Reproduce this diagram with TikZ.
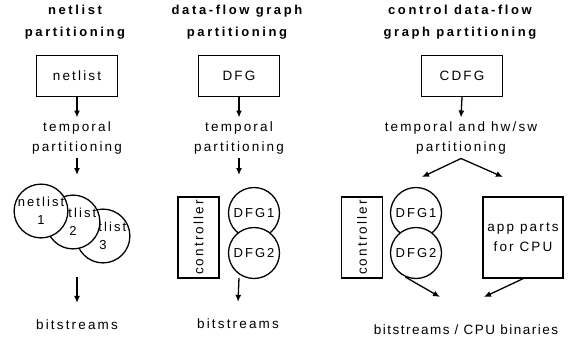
\documentclass[tikz,border=0pt]{standalone}
\usepackage{fontspec}
\setmainfont{Liberation Sans}[
  LetterSpace=16,
  BoldFeatures={LetterSpace=20}
]
\usepackage{tikz}
\usetikzlibrary{
  arrows.meta,
  positioning
}
\tikzset{
  title/.style={
    font=\bfseries\fontsize{13}{22}\selectfont,
    align=center,
    inner sep=0pt
  },
  srcbox/.style={
    draw,
    line width=1.4pt,
    minimum width=81pt,
    minimum height=41pt,
    inner sep=0pt
  },
  stage/.style={
    align=center,
    inner xsep=0pt,
    inner ysep=4pt
  },
  part/.style={
    circle,
    draw,
    line width=1.3pt,
    fill=white,
    minimum size=51pt,
    inner sep=0pt,
    align=center,
    font=\fontsize{13}{18}\selectfont
  },
  ctrlbox/.style={
    draw,
    line width=1.4pt,
    minimum width=81pt,
    minimum height=41pt,
    inner sep=0pt,
    rotate=90
  },
  cpubox/.style={
    draw,
    line width=1.4pt,
    minimum width=80pt,
    minimum height=81pt,
    inner sep=0pt,
    align=center
  },
  result/.style={
    inner xsep=0pt,
    inner ysep=17pt
  },
  flow/.style={
    -{Latex[length=7pt,width=6pt]},
    line width=1.3pt
  }
}

\begin{document}
\begin{tikzpicture}[
  x=1pt,
  y=-1pt,
  font=\fontsize{13.5}{20}\selectfont
]
  \useasboundingbox (0,0) rectangle (573,343);

  % netlist partitioning
  \node[title] (title1) at (75,22) {netlist\\partitioning};
  \node[srcbox] (netlist) at (77,76) {netlist};
  \node[stage] (temp1) at (77,138) {temporal\\partitioning};
  \coordinate (in1) at (77,175);
  \node[part] (nl3) at (103,236) {netlist\\3};
  \node[part] (nl2) at (73,222) {netlist\\2};
  \node[part] (nl1) at (41,211) {netlist\\1};
  \coordinate (out1) at (77,277);
  \node[result] (bits1) at (77,325) {bitstreams};

  \draw[flow] (netlist.south) -- (temp1.north);
  \draw[flow] (temp1.south) -- (in1);
  \draw[flow] (out1) -- (bits1.north);

  % data-flow graph partitioning
  \node[title] (title2) at (237,22) {data-flow graph\\partitioning};
  \node[srcbox] (dfg) at (239,76) {DFG};
  \node[stage] (temp2) at (239,138) {temporal\\partitioning};
  \coordinate (in2) at (239,175);
  \node[ctrlbox] (ctrl2) at (198.5,237.5) {controller};
  \node[part] (dfg1a) at (254,213) {DFG1};
  \node[part] (dfg2a) at (254,253) {DFG2};
  \coordinate (out2) at (239,278);
  \node[result] (bits2) at (238,324) {bitstreams};

  \draw[flow] (dfg.south) -- (temp2.north);
  \draw[flow] (temp2.south) -- (in2);
  \draw[flow] (out2) -- (bits2.north);

  % control data-flow graph partitioning
  \node[title] (title3) at (460,22) {control data-flow\\graph partitioning};
  \node[srcbox] (cdfg) at (462,76) {CDFG};
  \node[stage] (temp3) at (461,138) {temporal and hw/sw\\partitioning};
  \coordinate (hwin) at (422,177);
  \coordinate (swin) at (503,177);
  \node[ctrlbox] (ctrl3) at (362,237.5) {controller};
  \node[part] (dfg1b) at (416,213) {DFG1};
  \node[part] (dfg2b) at (416,253) {DFG2};
  \node[cpubox] (app) at (523,237.5) {app parts\\for CPU};
  \coordinate (hwout) at (440,297);
  \coordinate (swout) at (484,297);
  \node[font=\fontsize{13.5}{20}\selectfont\addfontfeature{LetterSpace=11}]
    (bits3) at (466,330) {bitstreams / CPU binaries};

  \draw[flow] (cdfg.south) -- (temp3.north);
  \draw[flow] (temp3.south) -- (hwin);
  \draw[flow] (temp3.south) -- (swin);
  \draw[flow, shorten <=2pt] (dfg2b.-118) -- (hwout);
  \draw[flow] (app.south) -- (swout);
\end{tikzpicture}
\end{document}
